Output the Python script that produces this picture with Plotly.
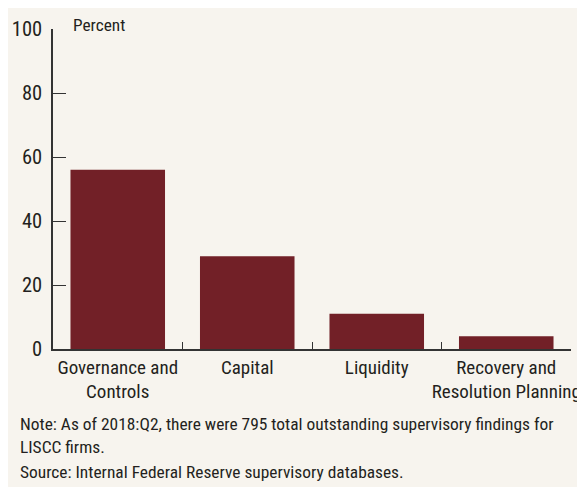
import plotly.graph_objects as go

categories = ["Governance and<br>Controls", "Capital", "Liquidity", "Recovery and<br>Resolution Planning"]
values = [56, 29, 11, 4]
y_ticks = [0, 20, 40, 60, 80, 100]

BG = "#f7f4ee"
BAR = "#722027"
INK = "#231f20"
FONT = "Roboto Condensed, Liberation Sans Narrow, DejaVu Sans Condensed, Roboto, sans-serif"

fig = go.Figure(go.Bar(x=categories, y=values, marker=dict(color=BAR, line=dict(width=0)), width=0.73))

H_PLOT = 320.0
def py(ypx):
    return (349 - ypx) / H_PLOT

fig.update_layout(
    width=577, height=479,
    paper_bgcolor=BG, plot_bgcolor=BG,
    margin=dict(l=45, r=14, t=21, b=138, autoexpand=False),
    font=dict(family=FONT, size=19, color=INK),
    showlegend=False,
    bargap=0.27,
    xaxis=dict(
        showline=True, linecolor="#333333", linewidth=1.5,
        ticks="inside", ticklen=7, tickwidth=1.2, tickcolor="#333333",
        tickson="boundaries", showgrid=False, zeroline=False,
        tickfont=dict(family=FONT, size=19, color=INK),
        tickangle=0, automargin=False,
        fixedrange=True,
    ),
    yaxis=dict(
        range=[0, 100], tickvals=y_ticks,
        showline=True, linecolor="#333333", linewidth=1.5,
        ticks="inside", ticklen=13, tickwidth=1.2, tickcolor="#333333",
        showgrid=False, zeroline=False, automargin=False,
        tickfont=dict(family=FONT, size=20.5, color=INK),
        ticklabelstandoff=5,
    ),
    annotations=[
        dict(text="Percent", xref="paper", yref="paper", x=(71 - 53) / 518, y=py(25),
             xanchor="left", yanchor="middle", showarrow=False,
             font=dict(family=FONT, size=17.3, color=INK)),
        dict(text="Note: As of 2018:Q2, there were 795 total outstanding supervisory findings for<br>LISCC firms.",
             xref="paper", yref="paper", x=(18 - 53) / 518, y=py(412), xanchor="left", yanchor="top",
             align="left", showarrow=False, font=dict(family=FONT, size=17.4, color=INK)),
        dict(text="Source: Internal Federal Reserve supervisory databases.",
             xref="paper", yref="paper", x=(18 - 53) / 518, y=py(460), xanchor="left", yanchor="top",
             align="left", showarrow=False, font=dict(family=FONT, size=17.4, color=INK)),
    ],
)

fig.write_html("out.html")
